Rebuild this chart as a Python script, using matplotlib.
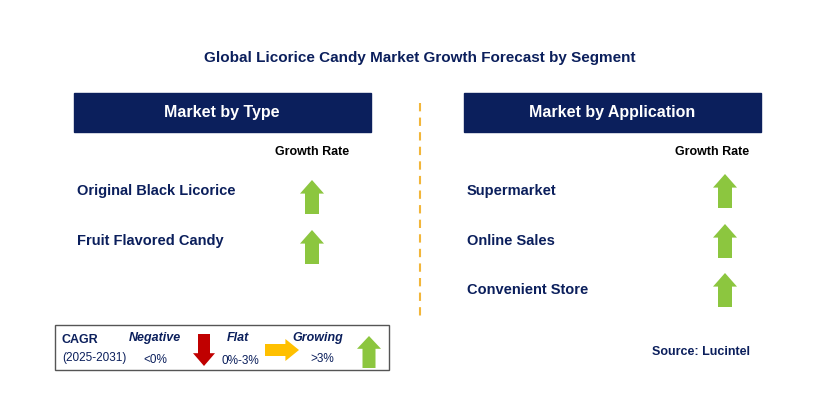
import matplotlib.pyplot as plt
from matplotlib.patches import Rectangle, Polygon

plt.rcParams["font.family"] = "Liberation Sans"

title = "Global Licorice Candy Market Growth Forecast by Segment"
left_header = "Market by Type"
right_header = "Market by Application"
type_segments = ["Original Black Licorice", "Fruit Flavored Candy"]
type_y = [191, 241]
app_segments = ["Supermarket", "Online Sales", "Convenient Store"]
app_y = [191, 241, 290]

navy = "#0b1f5c"
green = "#8cc63f"

fig = plt.figure(figsize=(8.29, 4.0), dpi=100)
ax = fig.add_axes([0, 0, 1, 1])
ax.set_xlim(0, 829)
ax.set_ylim(400, 0)
ax.axis("off")

def arrow(cx, cy, direction, color, w=24, h=34, shaft=14):
    # cx, cy = centre; direction up/down/right
    hw, hh, sw = w / 2, h / 2, shaft / 2
    head = h * 0.4
    if direction == "up":
        pts = [(cx, cy - hh), (cx + hw, cy - hh + head), (cx + sw, cy - hh + head),
               (cx + sw, cy + hh), (cx - sw, cy + hh), (cx - sw, cy - hh + head),
               (cx - hw, cy - hh + head)]
    elif direction == "down":
        pts = [(cx, cy + hh), (cx + hw, cy + hh - head), (cx + sw, cy + hh - head),
               (cx + sw, cy - hh), (cx - sw, cy - hh), (cx - sw, cy + hh - head),
               (cx - hw, cy + hh - head)]
    else:
        # right: w is length, h is head height
        head = w * 0.4
        pts = [(cx + hw, cy), (cx + hw - head, cy - hh), (cx + hw - head, cy - sw),
               (cx - hw, cy - sw), (cx - hw, cy + sw), (cx + hw - head, cy + sw),
               (cx + hw - head, cy + hh)]
    ax.add_patch(Polygon(pts, closed=True, color=color, lw=0))

ax.text(420, 58, title, ha="center", va="center", fontsize=11, fontweight="bold", color=navy)

for x0, hdr in [(74, left_header), (464, right_header)]:
    ax.add_patch(Rectangle((x0, 93), 297, 39, color=navy))
    ax.text(x0 + 148, 112, hdr, ha="center", va="center", fontsize=11.5, fontweight="bold", color="white")

ax.plot([420, 420], [103, 320], ls=(0, (4, 3)), color="#f2b63a", lw=1.5)

ax.text(312, 152, "Growth Rate", ha="center", va="center", fontsize=9, fontweight="bold", color="black")
ax.text(712, 152, "Growth Rate", ha="center", va="center", fontsize=9, fontweight="bold", color="black")

for name, y in zip(type_segments, type_y):
    ax.text(77, y, name, ha="left", va="center", fontsize=10.5, fontweight="bold", color=navy)
    arrow(312, y + 6, "up", green)
for name, y in zip(app_segments, app_y):
    ax.text(467, y, name, ha="left", va="center", fontsize=10.5, fontweight="bold", color=navy)
    arrow(725, y, "up", green)

# legend box
ax.add_patch(Rectangle((55, 325), 334, 45, fill=False, ec="#555555", lw=1))
ax.text(62, 340, "CAGR", fontsize=9, fontweight="bold", color=navy, va="center")
ax.text(62, 358, "(2025-2031)", fontsize=8.5, color=navy, va="center")
ax.text(155, 338, "Negative", fontsize=9, fontweight="bold", style="italic", color=navy, ha="center", va="center")
ax.text(155, 360, "<0%", fontsize=8.5, color=navy, ha="center", va="center")
arrow(204, 350, "down", "#c00000", w=22, h=32, shaft=12)
ax.text(238, 338, "Flat", fontsize=9, fontweight="bold", style="italic", color=navy, ha="center", va="center")
ax.text(240, 361, "0%-3%", fontsize=8.5, color=navy, ha="center", va="center")
arrow(282, 350, "right", "#ffc000", w=34, h=22, shaft=12)
ax.text(318, 338, "Growing", fontsize=9, fontweight="bold", style="italic", color=navy, ha="center", va="center")
ax.text(322, 359, ">3%", fontsize=8.5, color=navy, ha="center", va="center")
arrow(369, 352, "up", green, w=24, h=32, shaft=13)

ax.text(750, 352, "Source: Lucintel", ha="right", va="center", fontsize=9, fontweight="bold", color=navy)

fig.savefig("out.png", dpi=100)
